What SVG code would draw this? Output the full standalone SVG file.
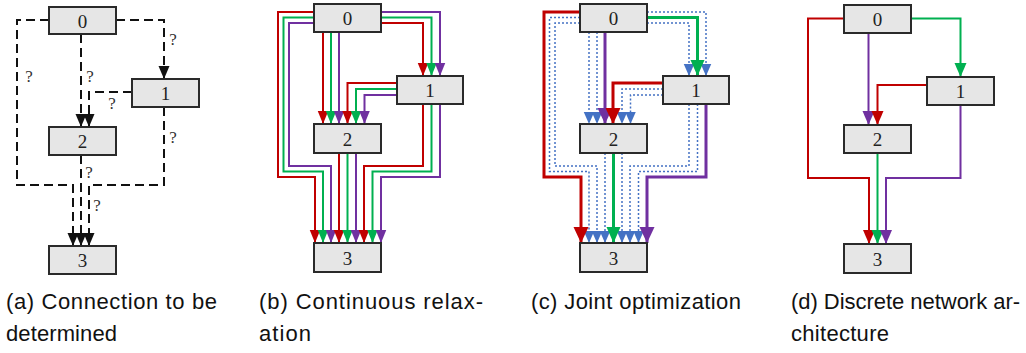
<svg xmlns="http://www.w3.org/2000/svg" width="1026" height="353" viewBox="0 0 1026 353">
<style>
.box{fill:#e6e6e6;stroke:#2a2a2a;stroke-width:2}
.lbl{font-family:"Liberation Serif",serif;font-size:19px;fill:#222;text-anchor:middle}
.q{font-family:"Liberation Serif",serif;font-size:17px;fill:#333;text-anchor:middle}
.cap{font-family:"Liberation Sans",sans-serif;font-size:22px;fill:#111}
.e{fill:none}
.dash{stroke:#111;stroke-width:2;stroke-dasharray:9 5}
.r{stroke:#c00000;stroke-width:2}
.g{stroke:#00b050;stroke-width:2}
.p{stroke:#7030a0;stroke-width:2}
.R{stroke:#c00000;stroke-width:3}
.G{stroke:#00b050;stroke-width:3}
.P{stroke:#7030a0;stroke-width:3}
.dot{stroke:#4472c4;stroke-width:1.5;stroke-dasharray:2 2}
</style>
<defs>
<marker id="mk" markerUnits="userSpaceOnUse" markerWidth="13" markerHeight="11" refX="13" refY="5.5" orient="auto" overflow="visible"><path d="M0,0L13,5.5L0,11z" fill="#111"/></marker>
<marker id="rb" markerUnits="userSpaceOnUse" markerWidth="13" markerHeight="10.5" refX="13" refY="5.25" orient="auto" overflow="visible"><path d="M0,0L13,5.25L0,10.5z" fill="#c00000"/></marker>
<marker id="gb" markerUnits="userSpaceOnUse" markerWidth="13" markerHeight="10.5" refX="13" refY="5.25" orient="auto" overflow="visible"><path d="M0,0L13,5.25L0,10.5z" fill="#00b050"/></marker>
<marker id="pb" markerUnits="userSpaceOnUse" markerWidth="13" markerHeight="10.5" refX="13" refY="5.25" orient="auto" overflow="visible"><path d="M0,0L13,5.25L0,10.5z" fill="#7030a0"/></marker>
<marker id="rc" markerUnits="userSpaceOnUse" markerWidth="16" markerHeight="15" refX="16" refY="7.5" orient="auto" overflow="visible"><path d="M0,0L16,7.5L0,15z" fill="#c00000"/></marker>
<marker id="gc" markerUnits="userSpaceOnUse" markerWidth="16" markerHeight="14" refX="16" refY="7" orient="auto" overflow="visible"><path d="M0,0L16,7L0,14z" fill="#00b050"/></marker>
<marker id="pc" markerUnits="userSpaceOnUse" markerWidth="16" markerHeight="15" refX="16" refY="7.5" orient="auto" overflow="visible"><path d="M0,0L16,7.5L0,15z" fill="#7030a0"/></marker>
<marker id="bc" markerUnits="userSpaceOnUse" markerWidth="12" markerHeight="10.5" refX="12" refY="5.25" orient="auto" overflow="visible"><path d="M0,0L12,5.25L0,10.5z" fill="#4472c4"/></marker>
<marker id="rd" markerUnits="userSpaceOnUse" markerWidth="14" markerHeight="12" refX="14" refY="6" orient="auto" overflow="visible"><path d="M0,0L14,6L0,12z" fill="#c00000"/></marker>
<marker id="gd" markerUnits="userSpaceOnUse" markerWidth="14" markerHeight="12" refX="14" refY="6" orient="auto" overflow="visible"><path d="M0,0L14,6L0,12z" fill="#00b050"/></marker>
<marker id="pd" markerUnits="userSpaceOnUse" markerWidth="14" markerHeight="12" refX="14" refY="6" orient="auto" overflow="visible"><path d="M0,0L14,6L0,12z" fill="#7030a0"/></marker>
</defs>

<!-- Panel (a) -->
<g id="a-connectors" class="e">
<path class="dash" d="M116,20H164V79" marker-end="url(#mk)"/>
<path class="dash" d="M81,34V127" marker-end="url(#mk)"/>
<path class="dash" d="M132,92H89V127" marker-end="url(#mk)"/>
<path class="dash" d="M49,20H17V185H73V246" marker-end="url(#mk)"/>
<path class="dash" d="M164,107V185H89V246" marker-end="url(#mk)"/>
<path class="dash" d="M81,155V246" marker-end="url(#mk)"/>
</g>
<g id="a-labels">
<text class="q" x="173" y="45">?</text>
<text class="q" x="29" y="82">?</text>
<text class="q" x="90" y="82">?</text>
<text class="q" x="112" y="109">?</text>
<text class="q" x="173" y="143">?</text>
<text class="q" x="89" y="178">?</text>
<text class="q" x="97" y="211">?</text>
</g>
<g id="a-n0"><rect class="box" x="49" y="7" width="67" height="27"/><text class="lbl" x="82.5" y="27.5">0</text></g>
<g id="a-n1"><rect class="box" x="132" y="79" width="67" height="28"/><text class="lbl" x="165.5" y="100">1</text></g>
<g id="a-n2"><rect class="box" x="49" y="127" width="67" height="28"/><text class="lbl" x="82.5" y="148">2</text></g>
<g id="a-n3"><rect class="box" x="49" y="246" width="67" height="28"/><text class="lbl" x="82.5" y="267">3</text></g>

<!-- Panel (b) -->
<g id="b-connectors" class="e">
<path class="r" d="M381,23H423V76" marker-end="url(#rb)"/>
<path class="g" d="M381,17.5H431.5V76" marker-end="url(#gb)"/>
<path class="p" d="M381,12H440V76" marker-end="url(#pb)"/>
<path class="r" d="M323,32V124" marker-end="url(#rb)"/>
<path class="g" d="M331,32V124" marker-end="url(#gb)"/>
<path class="p" d="M339,32V124" marker-end="url(#pb)"/>
<path class="r" d="M397,83H347.5V124" marker-end="url(#rb)"/>
<path class="g" d="M397,89H356V124" marker-end="url(#gb)"/>
<path class="p" d="M397,95H364.5V124" marker-end="url(#pb)"/>
<path class="r" d="M314,12H278V177H315V243" marker-end="url(#rb)"/>
<path class="g" d="M314,17.5H283.5V171.5H323V243" marker-end="url(#gb)"/>
<path class="p" d="M314,23H289V166H331V243" marker-end="url(#pb)"/>
<path class="r" d="M339,153V243" marker-end="url(#rb)"/>
<path class="g" d="M347.5,153V243" marker-end="url(#gb)"/>
<path class="p" d="M356,153V243" marker-end="url(#pb)"/>
<path class="r" d="M423,104V166H364V243" marker-end="url(#rb)"/>
<path class="g" d="M431.5,104V171.5H372.5V243" marker-end="url(#gb)"/>
<path class="p" d="M440,104V177H381V243" marker-end="url(#pb)"/>
</g>
<g id="b-n0"><rect class="box" x="314" y="4" width="67" height="28"/><text class="lbl" x="347.5" y="25">0</text></g>
<g id="b-n1"><rect class="box" x="397" y="76" width="66" height="28"/><text class="lbl" x="430" y="97">1</text></g>
<g id="b-n2"><rect class="box" x="314" y="124" width="67" height="29"/><text class="lbl" x="347.5" y="145.5">2</text></g>
<g id="b-n3"><rect class="box" x="314" y="243" width="67" height="29"/><text class="lbl" x="347.5" y="264.5">3</text></g>

<!-- Panel (c) -->
<g id="c-connectors" class="e">
<path class="dot" d="M647,23H689V76" marker-end="url(#bc)"/>
<path class="dot" d="M647,12H706V76" marker-end="url(#bc)"/>
<path class="dot" d="M589,32V124" marker-end="url(#bc)"/>
<path class="dot" d="M597,32V124" marker-end="url(#bc)"/>
<path class="dot" d="M663,89H622V124" marker-end="url(#bc)"/>
<path class="dot" d="M663,95H630.5V124" marker-end="url(#bc)"/>
<path class="dot" d="M580,17.5H549.5V171.5H589V243" marker-end="url(#bc)"/>
<path class="dot" d="M580,23H555V166H597V243" marker-end="url(#bc)"/>
<path class="dot" d="M605,153V243" marker-end="url(#bc)"/>
<path class="dot" d="M622,153V243" marker-end="url(#bc)"/>
<path class="dot" d="M689,104V166H630V243" marker-end="url(#bc)"/>
<path class="dot" d="M697.5,104V171.5H638.5V243" marker-end="url(#bc)"/>
<path class="G" d="M647,17.5H697.5V76" marker-end="url(#gc)"/>
<path class="P" d="M605,32V124" marker-end="url(#pc)"/>
<path class="R" d="M663,83H613V124" marker-end="url(#rc)"/>
<path class="R" d="M580,12H544V177H581V243" marker-end="url(#rc)"/>
<path class="G" d="M613.5,153V243" marker-end="url(#gc)"/>
<path class="P" d="M706,104V177H647V243" marker-end="url(#pc)"/>
</g>
<g id="c-n0"><rect class="box" x="580" y="4" width="67" height="28"/><text class="lbl" x="613.5" y="25">0</text></g>
<g id="c-n1"><rect class="box" x="663" y="76" width="66" height="28"/><text class="lbl" x="696" y="97">1</text></g>
<g id="c-n2"><rect class="box" x="580" y="124" width="67" height="29"/><text class="lbl" x="613.5" y="145.5">2</text></g>
<g id="c-n3"><rect class="box" x="580" y="243" width="67" height="29"/><text class="lbl" x="613.5" y="264.5">3</text></g>

<!-- Panel (d) -->
<g id="d-connectors" class="e">
<path class="g" d="M911,18.5H960.5V77" marker-end="url(#gd)"/>
<path class="p" d="M868.5,33V125" marker-end="url(#pd)"/>
<path class="r" d="M927,85H877.5V125" marker-end="url(#rd)"/>
<path class="r" d="M844,18.5H808V178H869V244" marker-end="url(#rd)"/>
<path class="g" d="M877.5,153V244" marker-end="url(#gd)"/>
<path class="p" d="M960.5,105V178H886V244" marker-end="url(#pd)"/>
</g>
<g id="d-n0"><rect class="box" x="844" y="5" width="67" height="28"/><text class="lbl" x="877.5" y="26">0</text></g>
<g id="d-n1"><rect class="box" x="927" y="77" width="67" height="28"/><text class="lbl" x="960.5" y="98">1</text></g>
<g id="d-n2"><rect class="box" x="844" y="125" width="67" height="28"/><text class="lbl" x="877.5" y="146">2</text></g>
<g id="d-n3"><rect class="box" x="844" y="244" width="67" height="29"/><text class="lbl" x="877.5" y="265.5">3</text></g>

<!-- Captions -->
<g id="captions">
<text class="cap" x="6" y="309" textLength="211">(a) Connection to be</text>
<text class="cap" x="6" y="341" textLength="111">determined</text>
<text class="cap" x="259" y="309" textLength="224">(b) Continuous relax-</text>
<text class="cap" x="259" y="341" textLength="52">ation</text>
<text class="cap" x="531" y="309" textLength="210">(c) Joint optimization</text>
<text class="cap" x="791" y="309" textLength="229">(d) Discrete network ar-</text>
<text class="cap" x="791" y="341" textLength="98">chitecture</text>
</g>
</svg>
